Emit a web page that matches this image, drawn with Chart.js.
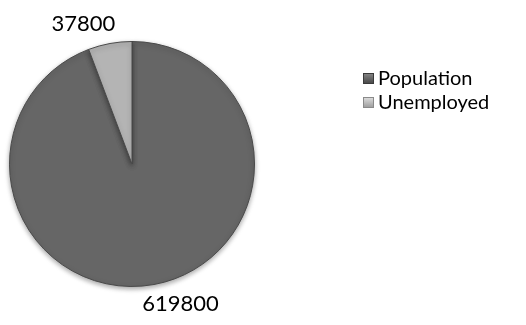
<!DOCTYPE html>
<html>
<head>
<meta charset="utf-8">
<script src="https://cdn.jsdelivr.net/npm/chart.js@4.4.0/dist/chart.umd.min.js"></script>
<style>
  html, body { margin: 0; padding: 0; background: #fff; }
  #wrap { width: 526px; height: 325px; position: relative; }
</style>
</head>
<body>
<div id="wrap"><canvas id="pieChart" width="526" height="325"></canvas></div>
<script>
const categories = ["Population", "Unemployed"];
const values = [619800, 37800];
const baseColors = ["#666666", "#b4b4b4"];
const rimColors = ["#3a3a3a", "#8a8a8a"];
const FONT = "Lato, 'Open Sans', sans-serif";

// radial shading so each slice looks bevelled at the rim
function sliceFill(ctx) {
  const chart = ctx.chart;
  const i = ctx.dataIndex;
  const arc = chart.getDatasetMeta(0).data[i];
  if (!arc || !arc.outerRadius) return baseColors[i];
  const g = chart.ctx.createRadialGradient(arc.x, arc.y, 0, arc.x, arc.y, arc.outerRadius);
  g.addColorStop(0, baseColors[i]);
  g.addColorStop(0.88, baseColors[i]);
  g.addColorStop(0.94, i === 0 ? "#6f6f6f" : "#d0d0d0");
  g.addColorStop(1, rimColors[i]);
  return g;
}

// soft drop shadow under the pie
const pieShadow = {
  id: "pieShadow",
  beforeDatasetsDraw(chart) {
    const ctx = chart.ctx;
    ctx.save();
    ctx.shadowColor = "rgba(0,0,0,0.35)";
    ctx.shadowBlur = 5;
    ctx.shadowOffsetY = 2;
  },
  afterDatasetsDraw(chart) {
    chart.ctx.restore();
  }
};

const outsideLabels = {
  id: "outsideLabels",
  afterDatasetsDraw(chart) {
    const ctx = chart.ctx;
    const meta = chart.getDatasetMeta(0);
    ctx.save();
    ctx.font = "22px " + FONT;
    ctx.fillStyle = "#000";
    ctx.textAlign = "center";
    ctx.textBaseline = "middle";
    meta.data.forEach((arc, i) => {
      const mid = (arc.startAngle + arc.endAngle) / 2;
      const r = arc.outerRadius + 20;
      const sx = Math.cos(mid), sy = Math.sin(mid);
      // push labels sideways so they clear the slice edge
      const x = arc.x + sx * r + Math.sign(sx) * 23;
      const y = arc.y + sy * r;
      ctx.fillText(String(chart.data.datasets[0].data[i]), x, y);
    });
    ctx.restore();
  }
};

const sideLegend = {
  id: "sideLegend",
  afterDraw(chart) {
    const ctx = chart.ctx;
    ctx.save();
    ctx.font = "20px " + FONT;
    ctx.textBaseline = "middle";
    chart.data.labels.forEach((label, i) => {
      const y = 78 + i * 24;
      const bx = 363, by = y - 5, s = 11;
      const g = ctx.createLinearGradient(bx, by, bx, by + s);
      g.addColorStop(0, i === 0 ? "#888" : "#e0e0e0");
      g.addColorStop(1, i === 0 ? "#444" : "#999");
      ctx.fillStyle = g;
      ctx.fillRect(bx, by, s, s);
      ctx.strokeStyle = rimColors[i];
      ctx.lineWidth = 1;
      ctx.strokeRect(bx + 0.5, by + 0.5, s - 1, s - 1);
      ctx.fillStyle = "#000";
      ctx.fillText(label, 378, y + 1);
    });
    ctx.restore();
  }
};

new Chart(document.getElementById("pieChart"), {
  type: "pie",
  data: {
    labels: categories,
    datasets: [{
      data: values,
      backgroundColor: sliceFill,
      borderColor: "#4a4a4a",
      borderWidth: 1
    }]
  },
  options: {
    responsive: false,
    animation: false,
    layout: { padding: { left: 9, top: 41, right: 271, bottom: 38 } },
    plugins: {
      legend: { display: false },
      tooltip: { enabled: false }
    }
  },
  plugins: [pieShadow, outsideLabels, sideLegend]
});
</script>
</body>
</html>
